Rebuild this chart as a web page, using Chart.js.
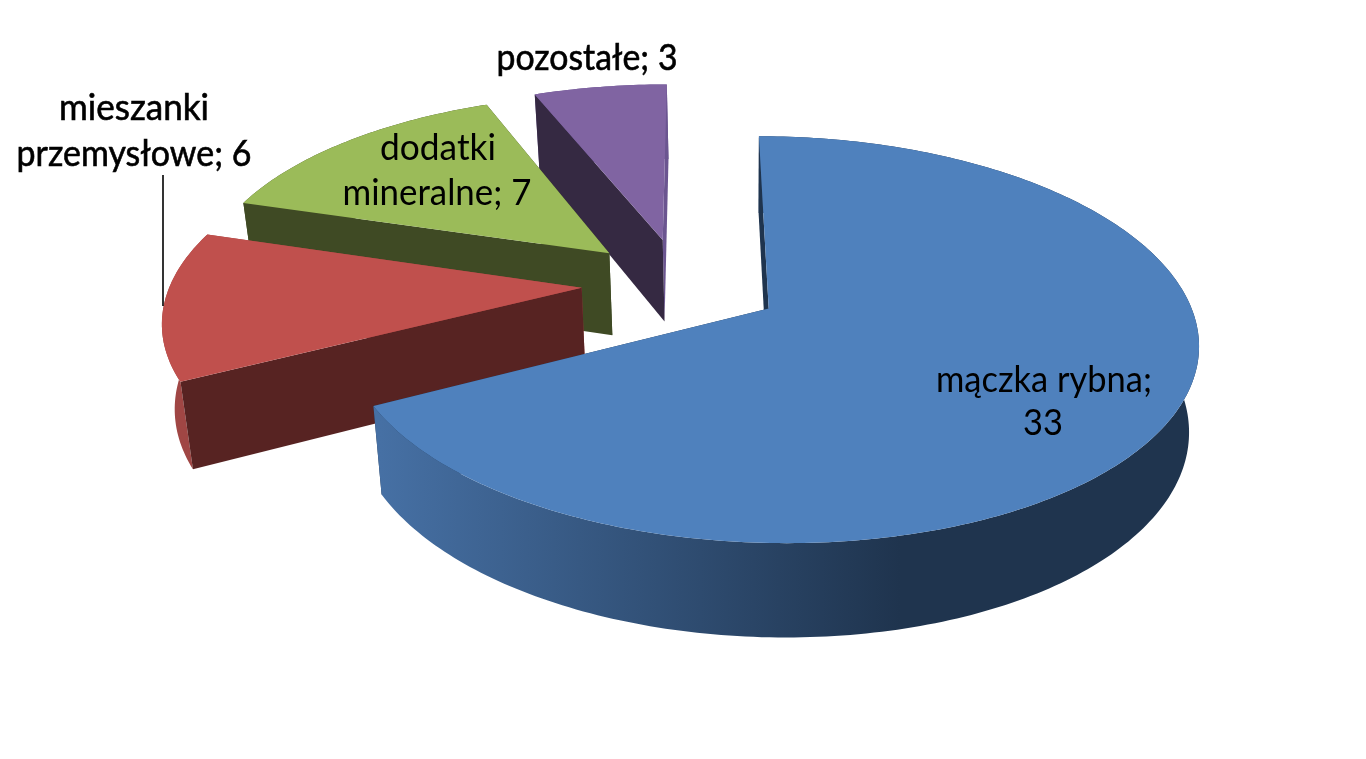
<!DOCTYPE html>
<html lang="pl">
<head>
<meta charset="utf-8">
<title>Pasza</title>
<style>
  html, body { margin: 0; padding: 0; background: #fff; overflow: hidden; }
  canvas { display: block; }
</style>
<script src="https://cdn.jsdelivr.net/npm/chart.js@4"></script>
</head>
<body>
<canvas id="wykres" width="1366" height="759"></canvas>
<script>
// dane
const categories = ['mączka rybna', 'mieszanki przemysłowe', 'dodatki mineralne', 'pozostałe'];
const values = [33, 6, 7, 3];

const topColors = ['#4f81bd', '#c0504d', '#9bbb59', '#8064a2'];
const wallColors = ['#1f344e', '#572322', '#3f4a24', '#352942'];
const rimColors = [null, '#a04644', '#3f4a24', '#6b5590'];

// rzut perspektywiczny tarczy kolowej
const view = { cx: 680.5, cy: 283.5, a: 191, b: 413, p: 0.15, q: 0.003 };
const floor = { vx: 745, kx: 0.978, ky: 1.043, dy: 71 };

function topPoint(u, v) {
  const d = 1 - view.p * v - view.q * u;
  return [view.cx + view.b * u / d, view.cy + view.a * v / d];
}
function bottomPoint(pt) {
  return [floor.vx + (pt[0] - floor.vx) * floor.kx, pt[1] * floor.ky + floor.dy];
}
function fillPoly(ctx, pts, color) {
  ctx.beginPath();
  pts.forEach((p, i) => i ? ctx.lineTo(p[0], p[1]) : ctx.moveTo(p[0], p[1]));
  ctx.closePath();
  ctx.fillStyle = color;
  ctx.fill();
}

const pie3d = {
  id: 'pie3d',
  beforeDatasetDraw(chart) {
    const ctx = chart.ctx;
    const arcs = chart.getDatasetMeta(0).data;
    // od tylu do przodu
    [3, 2, 1, 0].forEach(i => {
      const arc = arcs[i];
      const { startAngle, endAngle, outerRadius } = arc.getProps(['startAngle', 'endAngle', 'outerRadius']);
      const mid = (startAngle + endAngle) / 2;
      const e = arc.options.offset / outerRadius;
      const u0 = e * Math.cos(mid);
      const v0 = e * Math.sin(mid);
      const apex = topPoint(u0, v0);
      const rim = [];
      const steps = Math.ceil((endAngle - startAngle) * 60);
      for (let s = 0; s <= steps; s++) {
        const t = startAngle + (endAngle - startAngle) * s / steps;
        rim.push(topPoint(u0 + Math.cos(t), v0 + Math.sin(t)));
      }
      const rimLow = rim.map(bottomPoint);
      const apexLow = bottomPoint(apex);

      // tylna sciana przekroju
      fillPoly(ctx, [apex, rim[steps], rimLow[steps], apexLow], rimColors[i] || wallColors[i]);

      // sciana boczna
      let rimFill = rimColors[i];
      if (!rimFill) {
        rimFill = ctx.createLinearGradient(380, 0, 900, 0);
        rimFill.addColorStop(0, '#4670a4');
        rimFill.addColorStop(1, '#1f344e');
      }
      fillPoly(ctx, rim.concat(rimLow.slice().reverse()), rimFill);

      // przednia sciana przekroju
      fillPoly(ctx, [apex, rim[0], rimLow[0], apexLow], wallColors[i]);

      // gorna powierzchnia
      fillPoly(ctx, [apex].concat(rim), topColors[i]);
    });
    return false;
  },
  afterDraw(chart, args, opts) {
    const ctx = chart.ctx;
    ctx.save();
    ctx.strokeStyle = '#000';
    ctx.lineWidth = 1.6;
    ctx.beginPath();
    ctx.moveTo(opts.leader[0], opts.leader[1]);
    ctx.lineTo(opts.leader[2], opts.leader[3]);
    ctx.stroke();
    ctx.fillStyle = '#000';
    ctx.font = opts.font;
    ctx.textAlign = 'center';
    ctx.textBaseline = 'alphabetic';
    ctx.lineWidth = 0.6;
    opts.labels.forEach(l => {
      ctx.fillText(l.text, l.x, l.y, l.w);
      // gorne etykiety sa w oryginale grubsze
      if (l.heavy) ctx.strokeText(l.text, l.x, l.y, l.w);
    });
    ctx.restore();
  }
};

new Chart(document.getElementById('wykres'), {
  type: 'pie',
  data: {
    labels: categories,
    datasets: [{
      data: values,
      backgroundColor: topColors,
      borderWidth: 0,
      offset: [83, 81, 81, 81]
    }]
  },
  options: {
    responsive: false,
    animation: false,
    rotation: 0.3,
    events: [],
    plugins: {
      legend: { display: false },
      tooltip: { enabled: false },
      pie3d: {
        font: '36px Lato',
        leader: [163, 175, 163, 306],
        labels: [
          { text: categories[0] + ';', x: 1044, y: 392, w: 216 },
          { text: String(values[0]), x: 1043, y: 435, w: 40 },
          { text: categories[1].split(' ')[0], x: 134, y: 120, w: 150, heavy: true },
          { text: categories[1].split(' ')[1] + '; ' + values[1], x: 134, y: 166, w: 235, heavy: true },
          { text: categories[2].split(' ')[0], x: 438, y: 160, w: 116 },
          { text: categories[2].split(' ')[1] + '; ' + values[2], x: 437, y: 205, w: 189 },
          { text: categories[3] + '; ' + values[3], x: 587, y: 70, w: 181, heavy: true }
        ]
      }
    }
  },
  plugins: [pie3d]
});
</script>
</body>
</html>
